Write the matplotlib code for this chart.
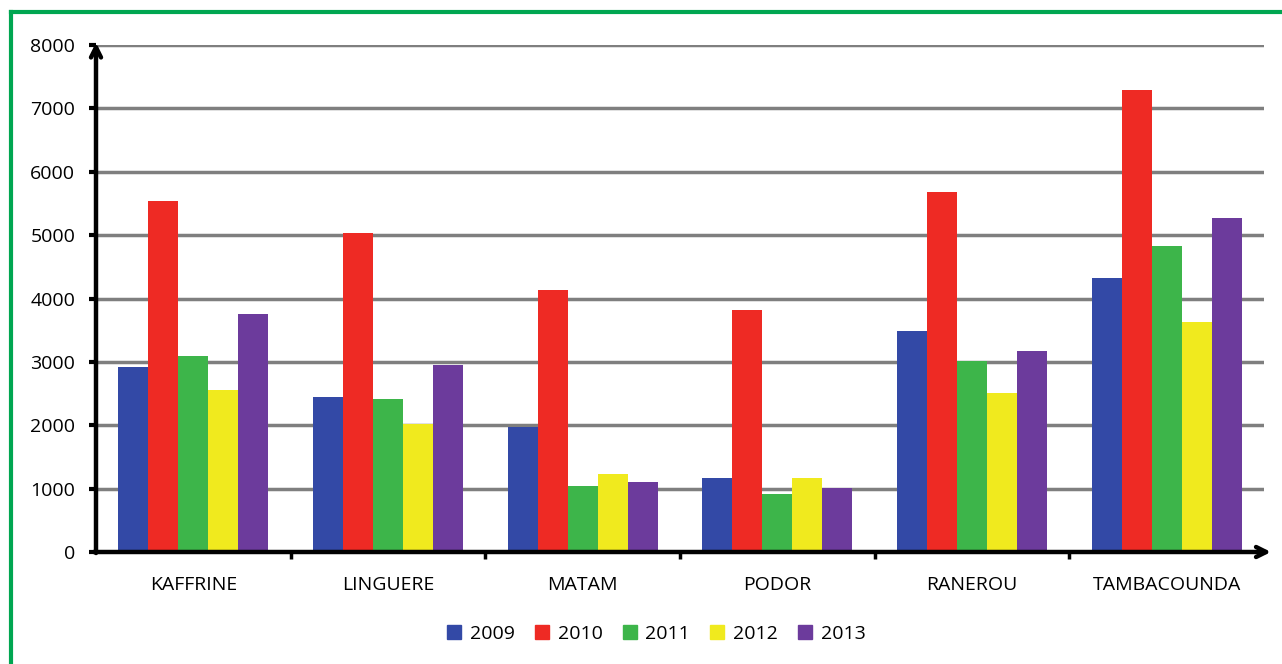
#!/usr/bin/env python3
"""Grouped bar chart by department, 2009-2013."""
import matplotlib

matplotlib.use("Agg")
import matplotlib.pyplot as plt
import numpy as np
from matplotlib.lines import Line2D

plt.rcParams.update({"font.family": ["Open Sans", "DejaVu Sans"]})

DEPTS = ["KAFFRINE", "LINGUERE", "MATAM", "PODOR", "RANEROU", "TAMBACOUNDA"]
YEARS = ["2009", "2010", "2011", "2012", "2013"]
V2009 = [2920, 2450, 1975, 1170, 3490, 4330]
V2010 = [5545, 5040, 4140, 3820, 5685, 7285]
V2011 = [3095, 2415, 1045, 915, 3015, 4830]
V2012 = [2560, 2020, 1230, 1170, 2515, 3635]
V2013 = [3760, 2955, 1105, 1005, 3175, 5265]
SERIES = [V2009, V2010, V2011, V2012, V2013]
COLORS = ["#3349A6", "#EE2A24", "#3DB54A", "#F0EA1E", "#6C3B9C"]

fig = plt.figure(figsize=(12.82, 6.64), dpi=100)
ax = fig.add_axes([96 / 1282, 1 - 552 / 664, 1168 / 1282, 507 / 664])

x = np.arange(len(DEPTS))
w = 0.154
for i, (vals, col) in enumerate(zip(SERIES, COLORS)):
    ax.bar(x + (i - 2) * w, vals, width=w, color=col, label=YEARS[i], zorder=3)

ax.set_xlim(-0.5, len(DEPTS) - 0.5)
ax.set_ylim(0, 8000)
ax.set_yticks(range(0, 8001, 1000))
ax.yaxis.grid(True, color="#7f7f7f", lw=2.5, zorder=0)
ax.set_axisbelow(True)
for s in ax.spines.values():
    s.set_visible(False)

# category labels centred, small ticks between groups
ax.set_xticks(x)
ax.set_xticklabels(DEPTS, fontsize=14)
ax.tick_params(axis="x", length=0, pad=17)
ax.set_xticks(np.arange(0.5, len(DEPTS) - 0.5), minor=True)
ax.tick_params(axis="x", which="minor", length=5, width=2.5, color="black")
ax.tick_params(axis="y", length=5, width=3, color="black", labelsize=14, pad=10)

# thick axes with arrow heads
arrow = dict(arrowstyle="->", lw=3.2, color="black", mutation_scale=18,
             shrinkA=0, shrinkB=0)
ax.annotate("", xy=(0, 1.005), xytext=(0, -0.002), xycoords="axes fraction",
            arrowprops=arrow, annotation_clip=False)
ax.annotate("", xy=(1.006, 0), xytext=(-0.002, 0), xycoords="axes fraction",
            arrowprops=arrow, annotation_clip=False)

handles = [Line2D([], [], ls="", marker="s", markersize=10, color=c) for c in COLORS]
fig.legend(handles, YEARS, loc="center", bbox_to_anchor=(656 / 1282, 1 - 634 / 664),
           ncol=5, frameon=False, fontsize=14, handlelength=0.8,
           handletextpad=0.4, columnspacing=1.0)

# green frame (left and top edges)
fig.add_artist(Line2D([11 / 1282, 11 / 1282], [0, 1 - 12 / 664], color="#00A651",
                      lw=3, transform=fig.transFigure))
fig.add_artist(Line2D([11 / 1282, 1], [1 - 12 / 664, 1 - 12 / 664], color="#00A651",
                      lw=3, transform=fig.transFigure))

fig.savefig("out.png", dpi=100)
